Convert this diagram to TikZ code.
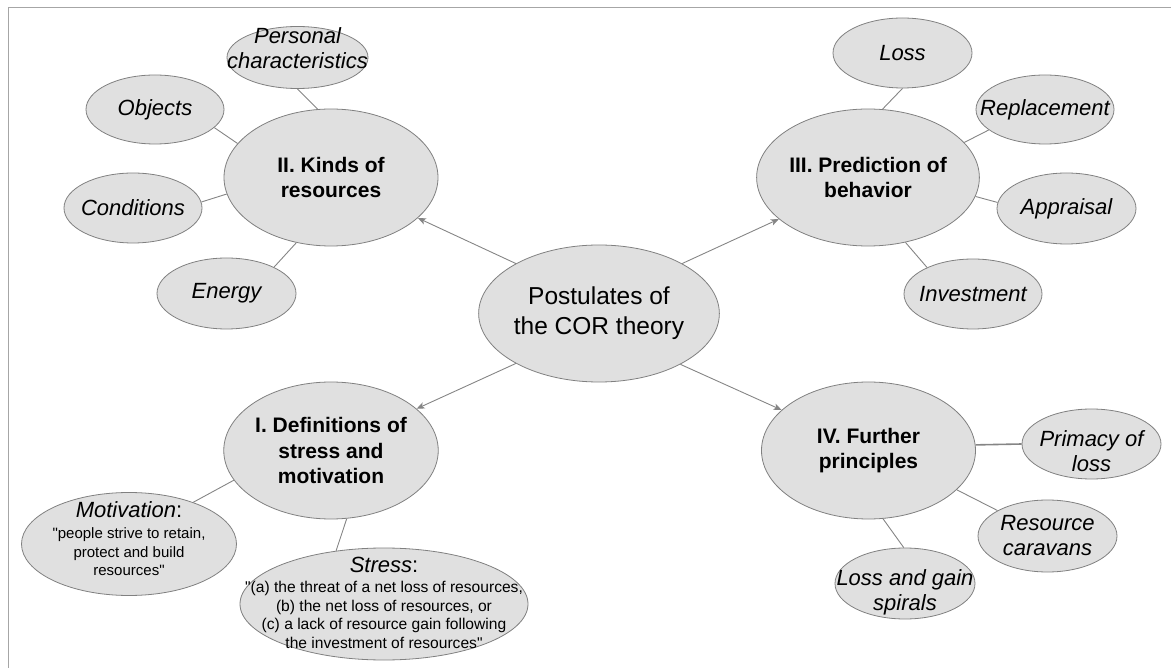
\documentclass[tikz,border=0pt]{standalone}
\usepackage{fontspec}
\setmainfont{Liberation Sans}[Ligatures=TeXOff]
\usetikzlibrary{arrows.meta,shapes.geometric}
\definecolor{bubblefill}{HTML}{E0E0E0}
\definecolor{bubbleedge}{HTML}{808080}
\definecolor{linkgray}{HTML}{858585}
\definecolor{framegray}{HTML}{A6A6A6}
\begin{document}
\begin{tikzpicture}[x=1pt,y=-1pt,
  bubble/.style={ellipse, draw=bubbleedge, fill=bubblefill, line width=0.8pt,
    inner sep=0pt, align=center, text=black},
  core/.style={bubble, minimum width=214pt, minimum height=137pt,
    font=\fontsize{24.5}{30}\selectfont},
  hub/.style={bubble, minimum width=214pt, minimum height=137pt,
    font=\fontsize{21}{25.5}\selectfont\bfseries},
  leaf/.style={bubble, minimum width=139pt, minimum height=70pt},
  leaftext/.style={font=\fontsize{22}{25}\selectfont\itshape, align=center,
    inner sep=0pt, text=black},
  quotetext/.style={font=\fontsize{15}{18.5}\selectfont, align=center,
    inner sep=0pt, text=black},
  link/.style={draw=linkgray, line width=0.9pt},
  arrowlink/.style={link, -{Stealth[length=8pt,width=6.5pt,inset=2pt]}},
]
\useasboundingbox (0,0) rectangle (1171,668);

% page frame
\draw[framegray, line width=1.5pt] (8.5,668) -- (8.5,7.5) -- (1171,7.5);

% central idea and the four postulates
\node[core] (core) at (599,313.5) {Postulates of\\the COR theory};
\node[hub] (kinds) at (331,177.5) {II. Kinds of\\resources};
\node[hub] (predict) at (868,177.5) {III. Prediction of\\behavior};
\node[hub] (defs) at (331,450.5) {I. Definitions of\\stress and\\motivation};
\node[hub] (further) at (868.5,450.5) {IV. Further\\principles};

% II. kinds of resources
\node[leaf, minimum width=141pt, minimum height=62pt,
  label={[leaftext, yshift=9.5pt]center:Personal\\characteristics}]
  (personal) at (297.5,57.5) {};
\node[leaf, minimum width=138pt, minimum height=69pt,
  label={[leaftext]center:Objects}] (objects) at (155,109.5) {};
\node[leaf, minimum width=138pt,
  label={[leaftext]center:Conditions}] (conditions) at (133,208) {};
\node[leaf, minimum height=71pt,
  label={[leaftext]center:Energy}] (energy) at (226.5,293.5) {};

% III. prediction of behavior
\node[leaf, label={[leaftext]center:Loss}] (loss) at (902.5,53) {};
\node[leaf, minimum width=138pt, minimum height=69pt,
  label={[leaftext]center:Replacement}] (replacement) at (1045,109.5) {};
\node[leaf, minimum height=71pt,
  label={[leaftext]center:Appraisal}] (appraisal) at (1066.5,208.5) {};
\node[leaf, minimum width=138pt,
  label={[leaftext]center:Investment}] (investment) at (973,294) {};

% IV. further principles
\node[leaf, label={[leaftext, yshift=-7.5pt]center:Primacy of\\loss}]
  (primacy) at (1091.5,444) {};
\node[leaf, minimum height=72pt,
  label={[leaftext]center:Resource\\caravans}] (caravans) at (1047.5,536) {};
\node[leaf, minimum width=140pt, minimum height=71pt,
  label={[leaftext, yshift=-9pt]center:Loss and gain\\spirals}]
  (spirals) at (905,583.5) {};

% I. definitions
\node[leaf, minimum width=215pt, minimum height=103pt,
  label={[quotetext, yshift=5pt]center:{\fontsize{22}{22}\selectfont\textit{Motivation}:}\\[2.5pt]
    "people strive to retain,\\protect and build\\resources"}]
  (motivation) at (129,544) {};
\node[leaf, minimum width=288pt, minimum height=112pt,
  label={[quotetext, font=\fontsize{15.6}{18.5}\selectfont, yshift=1pt]center:{\fontsize{22}{22}\selectfont\textit{Stress}:}\\[1.5pt]
    "(a) the threat of a net loss of resources,\\(b) the net loss of resources, or\\
    (c) a lack of resource gain following\\the investment of resources"}]
  (stress) at (384,604) {};

% arrows from the central idea
\draw[arrowlink] (core.149) -- (kinds.335);
\draw[arrowlink] (core.31) -- (predict.205);
\draw[arrowlink] (core.211) -- (defs.26);
\draw[arrowlink] (core.328) -- (further.155);

% spokes
\draw[link] (kinds.101) -- (personal.270);
\draw[link] (kinds.160) -- (objects.343);
\draw[link] (kinds.189) -- (conditions.5);
\draw[link] (kinds.242) -- (energy.29);

\draw[link] (predict.78) -- (loss.270);
\draw[link] (predict.20) -- (replacement.200);
\draw[link] (predict.350) -- (appraisal.175);
\draw[link] (predict.300) -- (investment.150);

\draw[link, line width=1.6pt] (further.3) -- (primacy.180);
\draw[link] (further.336) -- (caravans.153);
\draw[link] (further.282) -- (spirals.92);

\draw[link] (defs.197) -- (motivation.33);
\draw[link] (defs.283) -- (stress.132);
\end{tikzpicture}
\end{document}
